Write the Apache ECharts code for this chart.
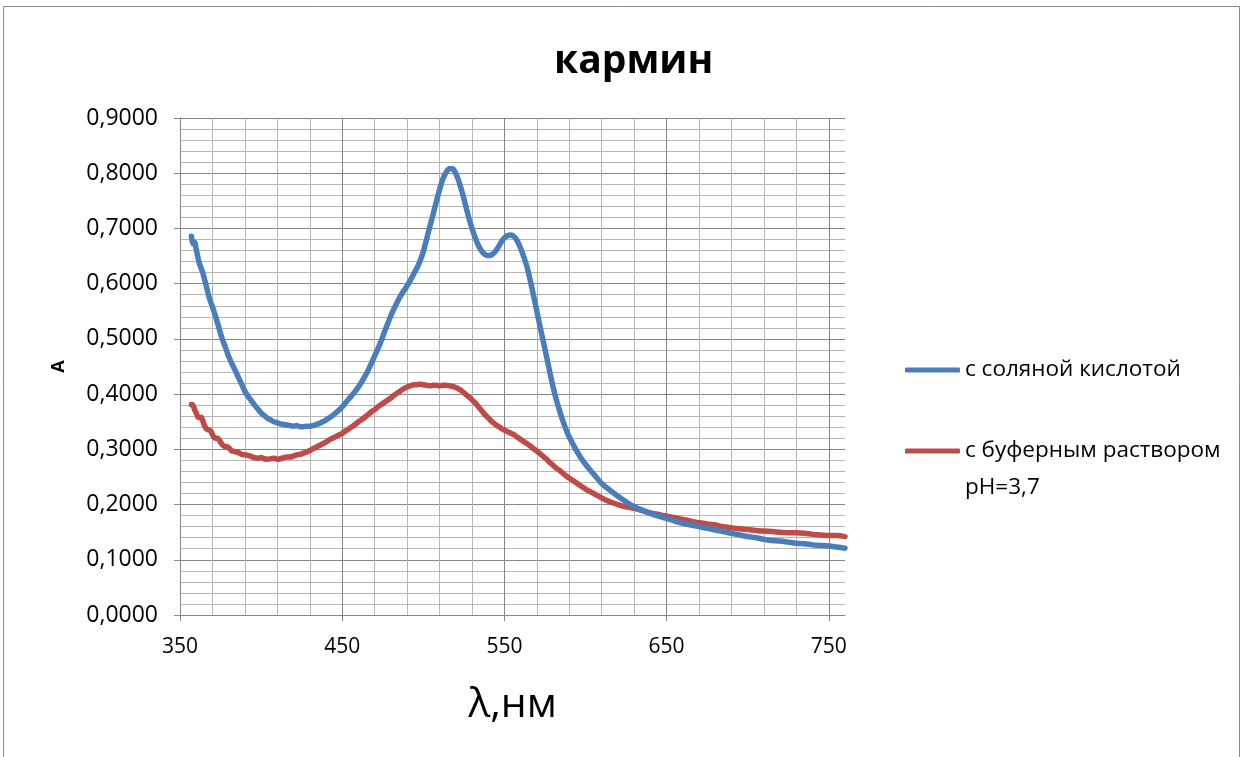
<!DOCTYPE html>
<html>
<head>
<meta charset="utf-8">
<script src="https://cdn.jsdelivr.net/npm/echarts@6/dist/echarts.min.js"></script>
<style>
  html, body { margin: 0; padding: 0; background: #ffffff; }
  #chart { width: 1245px; height: 757px; }
</style>
</head>
<body>
<div id="chart"></div>
<script>
// Absorption spectra of carmine: wavelength (nm) and absorbance A
const chartTitle = 'кармин';
const seriesNames = ['с соляной кислотой', 'с буферным раствором\npH=3,7'];
const xTickValues = [350, 450, 550, 650, 750];

// Carmine with hydrochloric acid
const acidLambda = [357, 358, 359, 360, 362, 364, 366, 368, 370, 372, 374, 376, 378, 380, 382, 384, 386, 388, 390,
  392, 394, 396, 398, 400, 402, 404, 406, 408, 410, 412, 414, 416, 418, 420, 422, 424, 426, 428, 430, 432, 434,
  436, 438, 440, 442, 444, 446, 448, 450, 452, 454, 456, 458, 460, 462, 464, 466, 468, 470, 472, 474, 476, 478,
  480, 482, 484, 486, 488, 490, 492, 494, 496, 498, 500, 502, 504, 506, 508, 510, 512, 514, 516, 518, 520, 522,
  524, 526, 528, 530, 532, 534, 536, 538, 540, 542, 544, 546, 548, 550, 552, 554, 556, 558, 560, 562, 564, 566,
  568, 570, 572, 574, 576, 578, 580, 582, 584, 586, 588, 590, 592, 594, 596, 598, 600, 603, 606, 610, 615, 620,
  625, 630, 635, 640, 645, 650, 655, 660, 665, 670, 675, 680, 685, 690, 695, 700, 705, 710, 715, 720, 725, 730,
  735, 740, 745, 750, 755, 760];
const acidA = [0.686, 0.672, 0.675, 0.662, 0.636, 0.620, 0.598, 0.575, 0.558, 0.540, 0.520, 0.500, 0.485, 0.468,
  0.455, 0.443, 0.430, 0.418, 0.405, 0.396, 0.388, 0.380, 0.373, 0.366, 0.361, 0.356, 0.353, 0.350, 0.348, 0.346,
  0.345, 0.344, 0.343, 0.342, 0.343, 0.341, 0.341, 0.342, 0.342, 0.343, 0.345, 0.347, 0.350, 0.353, 0.357, 0.361,
  0.366, 0.371, 0.377, 0.384, 0.391, 0.398, 0.405, 0.413, 0.422, 0.432, 0.443, 0.456, 0.469, 0.482, 0.496, 0.512,
  0.527, 0.542, 0.555, 0.567, 0.578, 0.587, 0.596, 0.606, 0.617, 0.628, 0.641, 0.658, 0.680, 0.703, 0.725, 0.748,
  0.770, 0.789, 0.801, 0.808, 0.808, 0.800, 0.785, 0.765, 0.743, 0.720, 0.700, 0.683, 0.669, 0.659, 0.653, 0.651,
  0.652, 0.657, 0.665, 0.675, 0.683, 0.687, 0.688, 0.685, 0.677, 0.664, 0.648, 0.630, 0.605, 0.578, 0.550, 0.522,
  0.495, 0.468, 0.440, 0.413, 0.390, 0.370, 0.352, 0.336, 0.322, 0.311, 0.300, 0.290, 0.281, 0.273, 0.262, 0.252,
  0.238, 0.226, 0.215, 0.205, 0.196, 0.190, 0.184, 0.179, 0.175, 0.170, 0.166, 0.163, 0.160, 0.157, 0.154, 0.151,
  0.148, 0.145, 0.142, 0.140, 0.137, 0.135, 0.134, 0.132, 0.130, 0.129, 0.127, 0.126, 0.125, 0.123, 0.121];

// Carmine in buffer solution pH 3.7
const bufferLambda = [357, 358, 359, 360, 361, 362, 363, 364, 365, 366, 367, 368, 369, 370, 371, 372, 373, 374,
  375, 376, 377, 378, 379, 380, 381, 382, 384, 386, 388, 390, 392, 394, 396, 398, 400, 402, 404, 406, 408, 410,
  412, 414, 416, 418, 420, 422, 424, 426, 428, 430, 432, 434, 436, 438, 440, 442, 444, 446, 448, 450, 452, 454,
  456, 458, 460, 462, 464, 466, 468, 470, 472, 474, 476, 478, 480, 482, 484, 486, 488, 490, 492, 494, 496, 498,
  500, 502, 504, 506, 508, 510, 512, 514, 516, 518, 520, 522, 524, 526, 528, 530, 532, 534, 536, 538, 540, 542,
  544, 546, 548, 550, 552, 554, 556, 558, 560, 562, 564, 566, 568, 570, 572, 574, 576, 578, 580, 582, 584, 586,
  588, 590, 592, 594, 596, 598, 600, 605, 610, 615, 620, 625, 630, 635, 640, 645, 650, 655, 660, 665, 670, 675,
  680, 685, 690, 695, 700, 705, 710, 715, 720, 725, 730, 735, 740, 745, 750, 755, 760];
const bufferA = [0.381, 0.380, 0.372, 0.366, 0.359, 0.357, 0.358, 0.352, 0.344, 0.338, 0.336, 0.335, 0.333, 0.327,
  0.322, 0.320, 0.320, 0.318, 0.313, 0.309, 0.306, 0.305, 0.305, 0.303, 0.300, 0.297, 0.296, 0.294, 0.291, 0.290,
  0.289, 0.287, 0.285, 0.284, 0.285, 0.283, 0.282, 0.283, 0.284, 0.282, 0.283, 0.285, 0.286, 0.286, 0.288, 0.290,
  0.291, 0.293, 0.295, 0.298, 0.301, 0.304, 0.307, 0.310, 0.313, 0.317, 0.320, 0.323, 0.326, 0.329, 0.333, 0.337,
  0.341, 0.345, 0.350, 0.354, 0.358, 0.363, 0.368, 0.372, 0.377, 0.381, 0.385, 0.389, 0.393, 0.398, 0.402, 0.406,
  0.410, 0.413, 0.415, 0.417, 0.417, 0.418, 0.417, 0.416, 0.415, 0.416, 0.416, 0.415, 0.416, 0.416, 0.415, 0.414,
  0.412, 0.409, 0.405, 0.400, 0.395, 0.390, 0.384, 0.377, 0.370, 0.363, 0.357, 0.351, 0.346, 0.342, 0.338, 0.335,
  0.332, 0.329, 0.326, 0.322, 0.318, 0.314, 0.310, 0.306, 0.301, 0.297, 0.292, 0.287, 0.282, 0.276, 0.271, 0.266,
  0.262, 0.257, 0.252, 0.248, 0.244, 0.240, 0.236, 0.232, 0.228, 0.220, 0.212, 0.205, 0.200, 0.196, 0.193, 0.189,
  0.185, 0.182, 0.179, 0.176, 0.173, 0.170, 0.167, 0.165, 0.163, 0.160, 0.158, 0.156, 0.155, 0.153, 0.152, 0.151,
  0.150, 0.149, 0.149, 0.148, 0.146, 0.145, 0.144, 0.144, 0.142];

const FONT = '"Open Sans", "Noto Sans", sans-serif';
const AXIS_COLOR = '#868686';
const MAJOR_GRID = '#868686';
const MINOR_GRID = '#b5b5b5';
const BLUE = '#4a7ebb';
const RED = '#be4b48';

const pairs = (xs, ys) => xs.map((x, i) => [x, ys[i]]);

// shared legend look; the multi-line name gets a blank first line so the
// marker sits beside its first line of text
const legendBase = {
  orient: 'vertical',
  left: 905,
  padding: 0,
  itemWidth: 55,
  itemHeight: 5,
  icon: 'roundRect',
  textStyle: { fontFamily: FONT, fontSize: 22.5, color: '#000', lineHeight: 37 },
  formatter: name => (name.indexOf('\n') >= 0 ? ' \n' + name : name)
};

const chart = echarts.init(document.getElementById('chart'), null, { renderer: 'canvas' });

chart.setOption({
  backgroundColor: '#ffffff',
  animation: false,
  graphic: [{
    type: 'rect',
    shape: { x: 3.5, y: 6.5, width: 1236, height: 800 },
    style: { fill: 'none', stroke: '#8a8a8a', lineWidth: 1 },
    silent: true
  }],
  title: {
    text: chartTitle,
    left: 549,
    top: 37,
    textStyle: { fontFamily: FONT, fontSize: 39, fontWeight: 'bold', color: '#000' }
  },
  legend: [
    Object.assign({}, legendBase, { top: 370 - 18.5, data: [seriesNames[0]] }),
    Object.assign({}, legendBase, { top: 451 - 55.5, data: [seriesNames[1]] })
  ],
  grid: { left: 180, right: 400, top: 118, bottom: 142, containLabel: false },
  xAxis: [
    {
      // labelled wavelength axis
      type: 'value',
      min: 350,
      max: 760,
      interval: 100,
      name: 'λ,нм',
      nameLocation: 'middle',
      nameGap: 70,
      nameTextStyle: { fontFamily: FONT, fontSize: 41, color: '#000' },
      axisLine: { show: true, onZero: false, lineStyle: { color: AXIS_COLOR, width: 1 } },
      axisTick: { show: true, inside: false, length: 6, customValues: xTickValues, lineStyle: { color: AXIS_COLOR } },
      axisLabel: { customValues: xTickValues, margin: 22, fontFamily: FONT, fontSize: 21, color: '#000' },
      splitLine: { show: false }
    },
    {
      // vertical grid every 20 nm, darker every 100 nm
      type: 'value',
      min: 350,
      max: 760,
      interval: 20,
      position: 'bottom',
      axisLine: { show: false },
      axisTick: { show: false },
      axisLabel: { show: false },
      splitLine: {
        show: true,
        showMaxLine: false,
        lineStyle: { color: [MAJOR_GRID, MINOR_GRID, MINOR_GRID, MINOR_GRID, MINOR_GRID], width: 1 }
      }
    }
  ],
  yAxis: {
    type: 'value',
    min: 0,
    max: 0.9,
    interval: 0.1,
    name: 'A',
    nameLocation: 'middle',
    nameGap: 112,
    nameTextStyle: { fontFamily: FONT, fontSize: 18, fontWeight: 'bold', color: '#000' },
    axisLine: { show: true, lineStyle: { color: AXIS_COLOR, width: 1 } },
    axisTick: { show: true, inside: false, length: 6, lineStyle: { color: AXIS_COLOR } },
    axisLabel: {
      margin: 22,
      fontFamily: FONT,
      fontSize: 23,
      color: '#000',
      formatter: v => v.toFixed(4).replace('.', ',')
    },
    splitLine: { show: true, lineStyle: { color: MAJOR_GRID, width: 1 } },
    minorTick: { show: false, splitNumber: 5 },
    minorSplitLine: { show: true, lineStyle: { color: MINOR_GRID, width: 1 } }
  },
  series: [
    {
      name: seriesNames[0],
      type: 'line',
      xAxisIndex: 0,
      data: pairs(acidLambda, acidA),
      showSymbol: false,
      symbol: 'none',
      smooth: 0.3,
      lineStyle: { color: BLUE, width: 5.5, cap: 'round', join: 'round' },
      itemStyle: { color: BLUE },
      z: 3
    },
    {
      name: seriesNames[1],
      type: 'line',
      xAxisIndex: 0,
      data: pairs(bufferLambda, bufferA),
      showSymbol: false,
      symbol: 'none',
      smooth: 0.3,
      lineStyle: { color: RED, width: 5.5, cap: 'round', join: 'round' },
      itemStyle: { color: RED },
      z: 2
    }
  ]
});
</script>
</body>
</html>
